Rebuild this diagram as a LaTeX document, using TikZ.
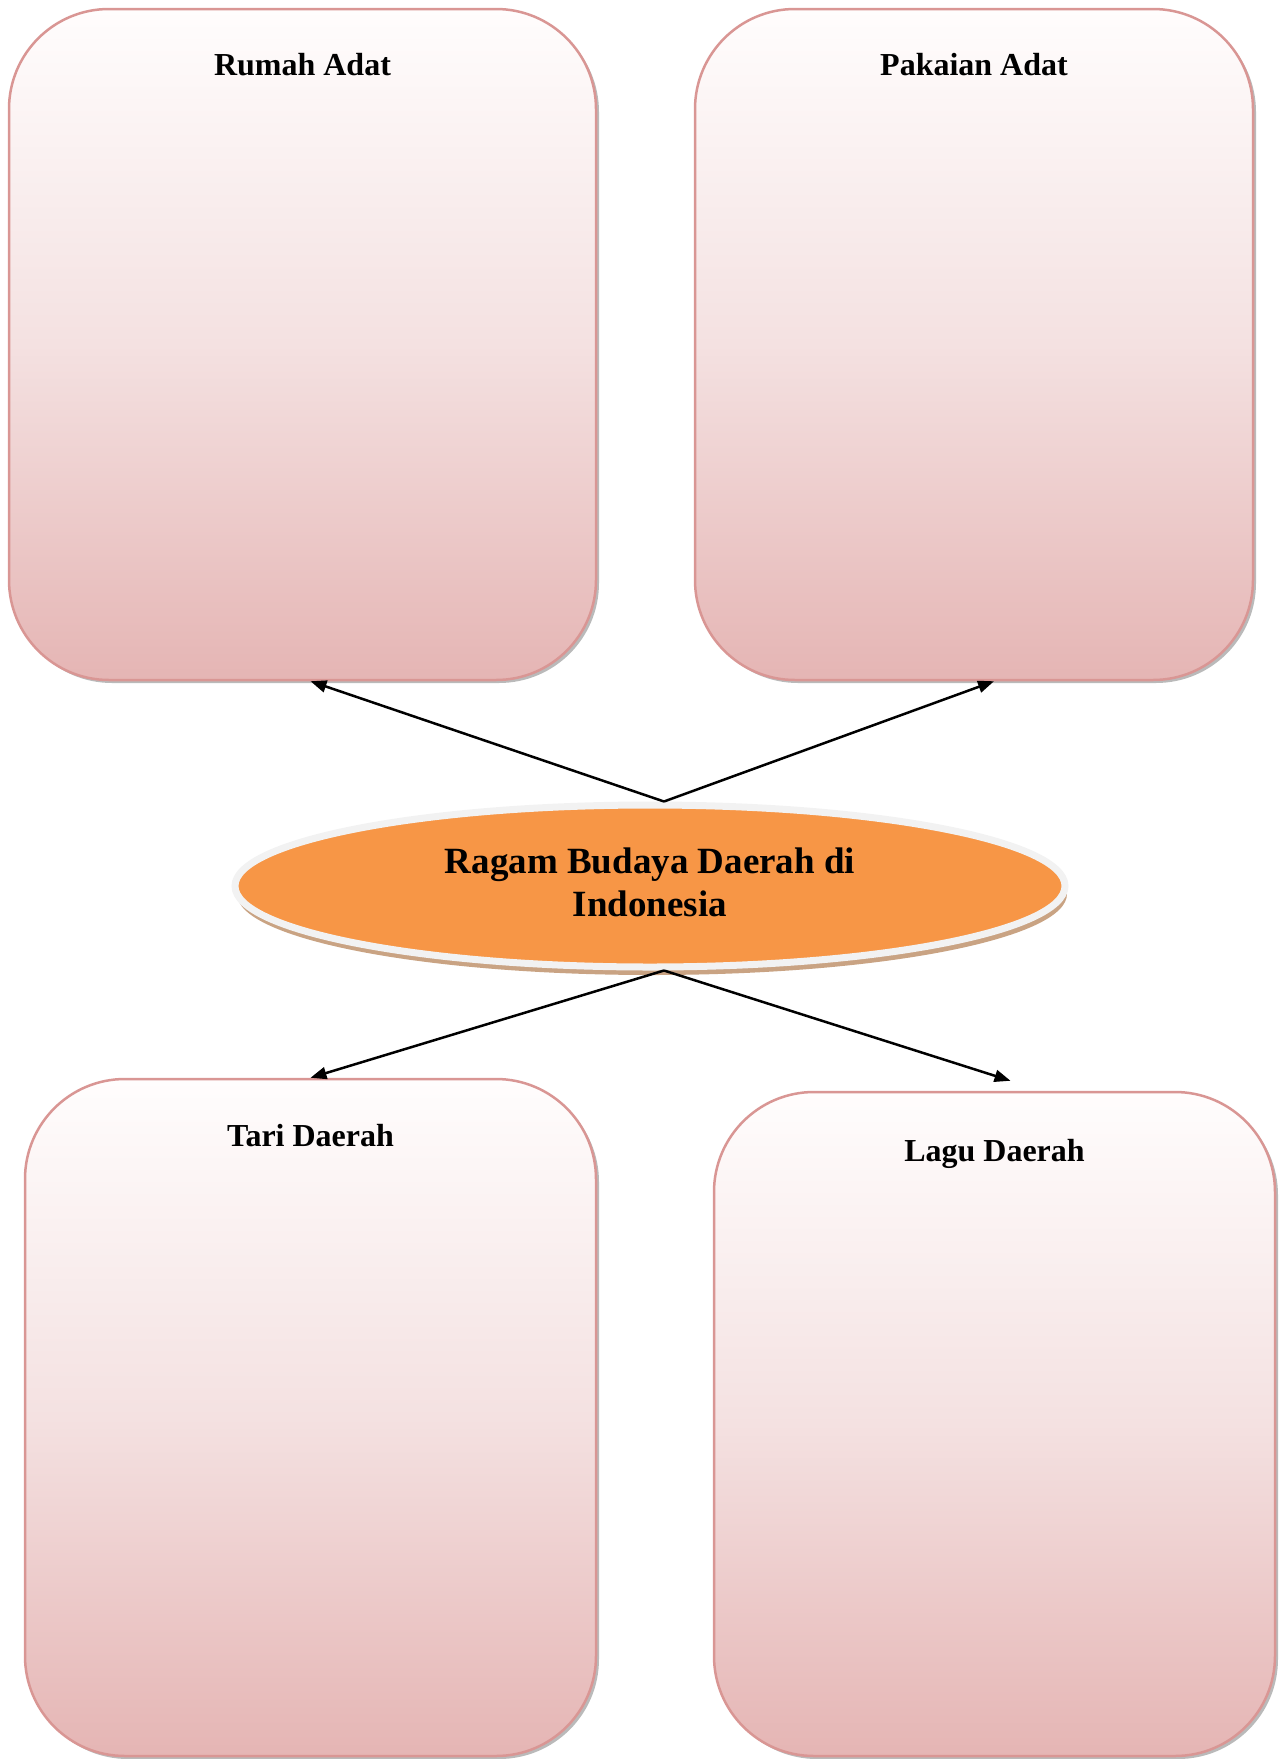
\documentclass[tikz,border=0pt]{standalone}
\usepackage{fontspec}
\setmainfont{Liberation Serif}
\usetikzlibrary{shapes.geometric,arrows.meta,shadows}

\definecolor{boxline}{HTML}{D99694}
\definecolor{boxtop}{HTML}{FFFDFD}
\definecolor{boxmid}{HTML}{F4E1E1}
\definecolor{boxpink}{HTML}{E5B5B4}
\definecolor{ovalorange}{HTML}{F79646}
\definecolor{ovalring}{HTML}{F2F2F2}
\definecolor{ovalshadow}{HTML}{C9A383}

\begin{document}
\begin{tikzpicture}[x=1pt,y=-1pt]
	% Styles for the boxes, their titles and the arrows
	\tikzset{
		topicbox/.style={rectangle, rounded corners=100pt, draw=boxline, line width=2.5pt,
			top color=boxtop, bottom color=boxpink, middle color=boxmid, inner sep=0pt,
			drop shadow={shadow xshift=3pt, shadow yshift=-3pt, fill=black!45, opacity=0.6}},
		topictitle/.style={font=\fontsize{32}{37}\selectfont\bfseries,
			text height=0.7em, text depth=0.25em, inner sep=0pt},
		centeroval/.style={ellipse, draw=ovalring, line width=7pt, fill=ovalorange,
			inner sep=0pt, minimum width=830pt, minimum height=162pt, align=center,
			font=\fontsize{37}{43}\selectfont\bfseries,
			drop shadow={shadow xshift=2pt, shadow yshift=-8pt, fill=ovalshadow, opacity=1}},
		topicarrow/.style={line width=2.5pt, -{Triangle[length=16pt,width=12pt]}}
	}

	% Page frame
	\useasboundingbox (0,0) rectangle (1283,1759);

	% Top boxes
	\node[topicbox, minimum width=587pt, minimum height=671pt] (rumah) at (302.5,344.5) {};
	\node[topictitle] (rumahtitle) at ([yshift=-65pt]rumah.north) {Rumah Adat};

	\node[topicbox, minimum width=558pt, minimum height=671pt] (pakaian) at (974,344.5) {};
	\node[topictitle] (pakaiantitle) at ([yshift=-65pt]pakaian.north) {Pakaian Adat};

	% Bottom boxes
	\node[topicbox, minimum width=571pt, minimum height=677pt] (tari) at (310.5,1417.5) {};
	\node[topictitle] (taribtitle) at ([yshift=-66pt]tari.north) {Tari Daerah};

	\node[topicbox, minimum width=561pt, minimum height=664pt] (lagu) at (994.5,1424) {};
	\node[topictitle] (lagutitle) at ([yshift=-68pt]lagu.north) {Lagu Daerah};

	% Centre oval
	\node[centeroval] (budaya) at (650,886) {Ragam Budaya Daerah di\\Indonesia\rule[-8pt]{0pt}{0pt}};

	% Meeting points of the arrows
	\coordinate (apextop) at ([xshift=14pt]budaya.north);
	\coordinate (apexbottom) at ([xshift=14pt]budaya.south);

	% Arrows out to the boxes
	\draw[topicarrow] (apextop) -- ([xshift=8pt]rumah.south);
	\draw[topicarrow] (apextop) -- ([xshift=20pt]pakaian.south);
	\draw[topicarrow] (apexbottom) -- (tari.north);
	\draw[topicarrow] (apexbottom) -- ([xshift=16pt,yshift=10pt]lagu.north);

\end{tikzpicture}
\end{document}
